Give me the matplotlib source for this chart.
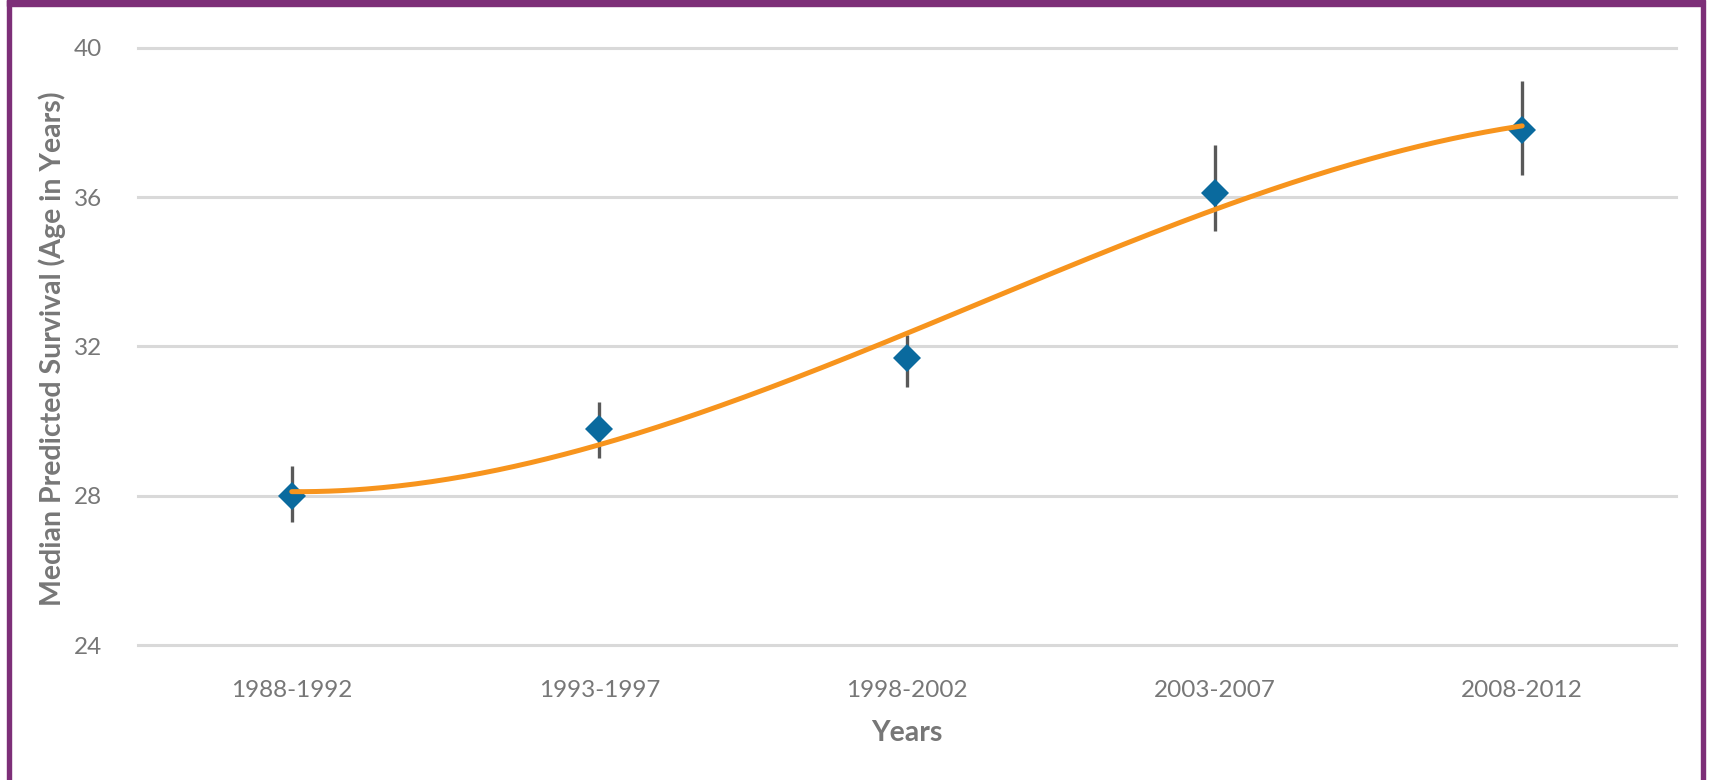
import numpy as np
import matplotlib
matplotlib.use("Agg")
import matplotlib.pyplot as plt
from matplotlib.patches import Rectangle

# ---- data ----
categories = ["1988-1992", "1993-1997", "1998-2002", "2003-2007", "2008-2012"]
median_age = [28.0, 29.8, 31.7, 36.1, 37.8]
ci_low = [27.3, 29.0, 30.9, 35.1, 36.6]
ci_high = [28.8, 30.5, 32.3, 37.4, 39.1]
y_ticks = [24, 28, 32, 36, 40]

plt.rcParams['font.family'] = ['Lato', 'DejaVu Sans']

W, H = 1710, 780
fig = plt.figure(figsize=(W / 100, H / 100), dpi=100)
fig.patch.set_facecolor("white")

purple = "#7d2f78"
# border: top band, left and right lines
fig.patches.append(Rectangle((7 / W, 1 - 6 / H), (1704 - 7) / W, 6 / H,
                             transform=fig.transFigure, color=purple, zorder=0))
fig.patches.append(Rectangle((7 / W, 0), 4 / W, 1, transform=fig.transFigure,
                             color=purple, zorder=0))
fig.patches.append(Rectangle((1701 / W, 0), 3.5 / W, 1, transform=fig.transFigure,
                             color=purple, zorder=0))

left, right = 138 / W, 1676 / W
bottom, top = 1 - 645 / H, 1 - 47.8 / H
ax = fig.add_axes([left, bottom, right - left, top - bottom])
ax.set_facecolor("none")

x = np.arange(len(categories))
y = np.array(median_age)
err = np.vstack([y - np.array(ci_low), np.array(ci_high) - y])

# gridlines
for t in y_ticks:
    ax.axhline(t, color="#d9d9d9", lw=2.2, zorder=1, clip_on=False)

# error bars + diamonds
ax.errorbar(x, y, yerr=err, fmt="none", ecolor="#595959", elinewidth=2.4,
            capsize=0, zorder=2)
ax.plot(x, y, linestyle="none", marker="D", ms=14, color="#0a6a9e",
        markeredgewidth=0, zorder=3)

# cubic trendline fitted to the data
coef = np.polyfit(x, y, 3)
xs = np.linspace(x[0], x[-1], 300)
ax.plot(xs, np.polyval(coef, xs), color="#f7941d", lw=3.6, zorder=4,
        solid_capstyle="round")

ax.set_xlim(-0.5, len(categories) - 0.5)
ax.set_ylim(24, 40)
ax.set_yticks(y_ticks)
ax.set_yticklabels([str(t) for t in y_ticks])
ax.set_xticks(x)
ax.set_xticklabels(categories)
ax.tick_params(axis="both", length=0, labelsize=17.5, colors="#777777")
ax.tick_params(axis="y", pad=26)
ax.tick_params(axis="x", pad=25)
for s in ax.spines.values():
    s.set_visible(False)

ax.set_xlabel("Years", fontsize=20.5, fontweight="bold", color="#777777", labelpad=14)
fig.text(52 / W, 1 - 349 / H, "Median Predicted Survival (Age in Years)",
         rotation=90, ha="center", va="center", fontsize=20.5,
         fontweight="bold", color="#777777")

fig.savefig("out.png", dpi=100, facecolor="white")
